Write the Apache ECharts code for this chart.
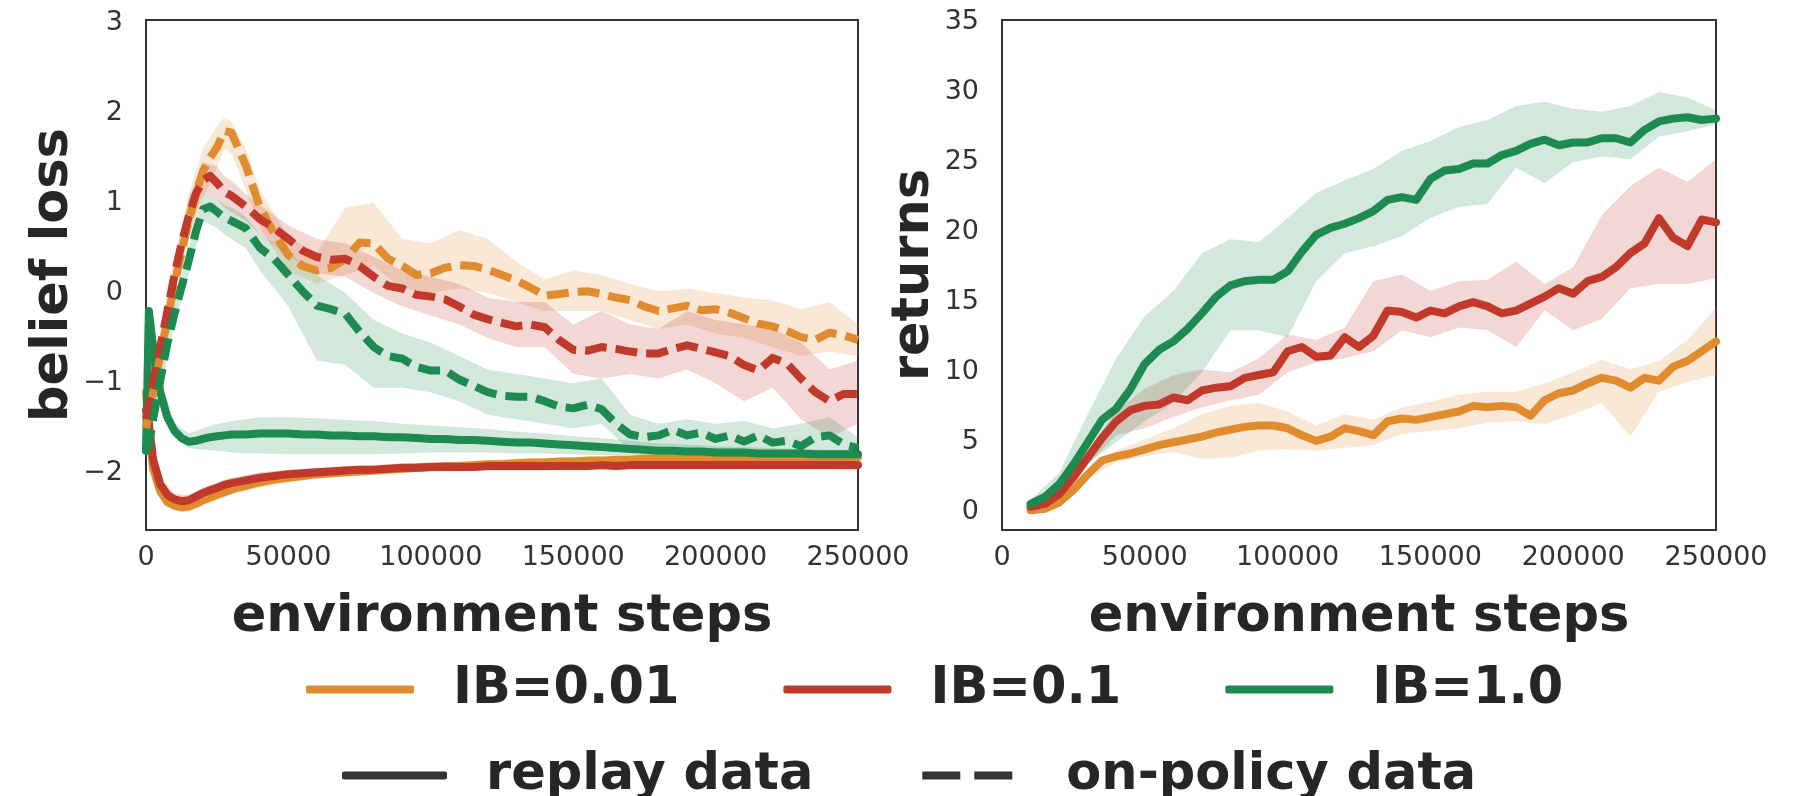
<!DOCTYPE html>
<html>
<head>
<meta charset="utf-8">
<script src="https://cdn.jsdelivr.net/npm/echarts@6.0.0/dist/echarts.min.js"></script>
<style>
  html, body { margin: 0; padding: 0; background: #fff; }
  #chart { width: 1798px; height: 796px; }
</style>
</head>
<body>
<div id="chart"></div>
<script>
// ---- left panel: belief loss ----
const STEPS_L = [0, 1000, 2500, 5000, 7500, 10000, 12500, 15000, 17500, 20000, 22500, 25000, 27500,
  30000, 35000, 40000, 45000, 50000, 55000, 60000, 65000, 70000, 75000, 80000, 85000, 90000, 95000, 100000,
  105000, 110000, 115000, 120000, 125000, 130000, 135000, 140000, 145000, 150000, 155000, 160000, 165000, 170000,
  175000, 180000, 185000, 190000, 195000, 200000, 205000, 210000, 215000, 220000, 225000, 230000, 235000, 240000,
  245000, 250000];

// replay data (solid)
const lossReplay001 = [-1.1, -1.5, -1.95, -2.2, -2.32, -2.36, -2.38, -2.37, -2.34, -2.3, -2.27, -2.24, -2.21,
  -2.18, -2.14, -2.1, -2.07, -2.05, -2.03, -2.01, -2.0, -1.99, -1.98, -1.97, -1.96, -1.95, -1.94, -1.93,
  -1.92, -1.92, -1.91, -1.9, -1.9, -1.89, -1.88, -1.88, -1.87, -1.87, -1.86, -1.86, -1.85, -1.85,
  -1.84, -1.84, -1.84, -1.84, -1.83, -1.83, -1.83, -1.83, -1.83, -1.83, -1.82, -1.82, -1.82, -1.82, -1.82, -1.82];
const lossReplay01 = [-1.3, -1.45, -1.85, -2.12, -2.24, -2.29, -2.31, -2.3, -2.26, -2.22, -2.19, -2.16, -2.13,
  -2.11, -2.08, -2.05, -2.03, -2.01, -2.0, -1.99, -1.98, -1.97, -1.96, -1.96, -1.95, -1.94, -1.94, -1.93,
  -1.93, -1.93, -1.93, -1.92, -1.92, -1.92, -1.92, -1.92, -1.92, -1.92, -1.92, -1.91, -1.92, -1.91,
  -1.91, -1.91, -1.91, -1.91, -1.91, -1.91, -1.91, -1.91, -1.91, -1.91, -1.91, -1.91, -1.91, -1.91, -1.91, -1.91];
const lossReplay1 = [-1.75, -0.2, -0.6, -1.1, -1.38, -1.53, -1.61, -1.65, -1.64, -1.62, -1.6, -1.59, -1.58,
  -1.57, -1.57, -1.56, -1.56, -1.56, -1.57, -1.57, -1.58, -1.58, -1.59, -1.59, -1.6, -1.6, -1.61, -1.62,
  -1.62, -1.63, -1.63, -1.64, -1.65, -1.66, -1.66, -1.67, -1.68, -1.69, -1.7, -1.71, -1.72, -1.73,
  -1.74, -1.75, -1.75, -1.76, -1.76, -1.77, -1.77, -1.77, -1.78, -1.78, -1.78, -1.78, -1.79, -1.79, -1.79, -1.79];

// on-policy data (dashed)
const lossOnPolicy001 = [-1.5, -1.35, -1.1, -0.7, -0.3, 0.1, 0.45, 0.8, 1.1, 1.35, 1.5, 1.62, 1.8,
  1.78, 1.42, 0.95, 0.66, 0.42, 0.3, 0.25, 0.28, 0.38, 0.56, 0.55, 0.38, 0.3, 0.2, 0.22,
  0.28, 0.31, 0.3, 0.26, 0.2, 0.14, 0.06, -0.03, -0.01, 0.01, 0.02, -0.01, -0.05, -0.08,
  -0.15, -0.2, -0.17, -0.14, -0.19, -0.18, -0.22, -0.28, -0.34, -0.37, -0.42, -0.49, -0.52, -0.44, -0.47, -0.52];
const lossOnPolicy01 = [-1.4, -1.25, -1.0, -0.6, -0.2, 0.2, 0.55, 0.85, 1.1, 1.25, 1.3, 1.22, 1.12,
  1.08, 0.96, 0.82, 0.72, 0.6, 0.47, 0.4, 0.37, 0.38, 0.3, 0.18, 0.08, 0.05, -0.02, -0.04,
  -0.07, -0.15, -0.24, -0.29, -0.33, -0.37, -0.35, -0.38, -0.52, -0.63, -0.64, -0.6, -0.62, -0.65,
  -0.67, -0.67, -0.62, -0.58, -0.62, -0.66, -0.7, -0.8, -0.86, -0.72, -0.78, -0.95, -1.1, -1.2, -1.12, -1.12];
const lossOnPolicy1 = [-1.75, -1.7, -1.4, -0.97, -0.56, -0.23, 0.07, 0.36, 0.68, 0.93, 0.96, 0.9, 0.84,
  0.8, 0.72, 0.5, 0.38, 0.2, 0.02, -0.14, -0.18, -0.23, -0.43, -0.6, -0.7, -0.73, -0.82, -0.86,
  -0.86, -0.96, -1.03, -1.1, -1.14, -1.15, -1.15, -1.2, -1.26, -1.28, -1.24, -1.29, -1.45, -1.57,
  -1.6, -1.58, -1.52, -1.58, -1.55, -1.62, -1.58, -1.65, -1.58, -1.66, -1.64, -1.7, -1.6, -1.58, -1.68, -1.72];

// shaded spread, left panel
const BAND_L = [0, 2500, 5000, 10000, 15000, 20000, 25000, 27500, 30000, 35000,
  40000, 50000, 60000, 70000, 80000, 90000, 100000, 110000, 120000, 130000, 140000,
  150000, 160000, 170000, 180000, 190000, 200000, 210000, 220000, 230000, 240000, 250000];
const replay001Lo = [-1.25, -2.02, -2.27, -2.42, -2.43, -2.36, -2.3, -2.27, -2.24, -2.2,
  -2.16, -2.1, -2.06, -2.04, -2.02, -2.0, -1.98, -1.97, -1.95, -1.94, -1.93,
  -1.92, -1.91, -1.9, -1.89, -1.89, -1.88, -1.88, -1.88, -1.88, -1.88, -1.89];
const replay001Hi = [-0.95, -1.88, -2.13, -2.3, -2.31, -2.24, -2.18, -2.15, -2.12, -2.08,
  -2.04, -2.0, -1.96, -1.94, -1.92, -1.9, -1.88, -1.87, -1.85, -1.84, -1.83,
  -1.82, -1.81, -1.8, -1.79, -1.79, -1.78, -1.78, -1.77, -1.76, -1.75, -1.74];
const replay01Lo = [-1.45, -1.92, -2.18, -2.35, -2.36, -2.28, -2.22, -2.19, -2.17, -2.14,
  -2.11, -2.06, -2.04, -2.02, -2.01, -1.99, -1.98, -1.98, -1.97, -1.97, -1.97,
  -1.96, -1.96, -1.96, -1.96, -1.96, -1.96, -1.96, -1.96, -1.96, -1.96, -1.97];
const replay01Hi = [-1.15, -1.78, -2.06, -2.23, -2.24, -2.16, -2.1, -2.07, -2.05, -2.02,
  -1.99, -1.96, -1.94, -1.92, -1.91, -1.89, -1.88, -1.88, -1.87, -1.87, -1.87,
  -1.86, -1.86, -1.86, -1.86, -1.86, -1.86, -1.86, -1.86, -1.86, -1.86, -1.86];
const replay1Lo = [-1.8, -0.8, -1.22, -1.6, -1.72, -1.74, -1.75, -1.76, -1.77, -1.78,
  -1.78, -1.79, -1.79, -1.79, -1.79, -1.78, -1.77, -1.77, -1.77, -1.78, -1.78,
  -1.79, -1.8, -1.8, -1.81, -1.81, -1.82, -1.82, -1.83, -1.83, -1.84, -1.84];
const replay1Hi = [-1.65, -0.35, -0.95, -1.44, -1.56, -1.5, -1.45, -1.44, -1.42, -1.4,
  -1.38, -1.38, -1.39, -1.41, -1.42, -1.45, -1.47, -1.49, -1.51, -1.54, -1.56,
  -1.59, -1.61, -1.64, -1.67, -1.68, -1.7, -1.71, -1.72, -1.73, -1.74, -1.74];
const onPolicy001Lo = [-1.6, -1.2, -0.85, -0.1, 0.6, 1.05, 1.4, 1.6, 1.55, 1.15,
  0.72, 0.25, 0.1, 0.2, 0.3, 0.05, 0.0, 0.05, 0.0, -0.1, -0.2,
  -0.2, -0.2, -0.3, -0.4, -0.35, -0.45, -0.5, -0.6, -0.7, -0.65, -0.7];
const onPolicy001Hi = [-1.4, -0.95, -0.55, 0.3, 1.1, 1.6, 1.85, 1.95, 1.9, 1.6,
  1.15, 0.62, 0.45, 0.95, 1.0, 0.6, 0.55, 0.7, 0.6, 0.35, 0.15,
  0.25, 0.2, 0.1, 0.02, 0.05, 0.0, -0.05, -0.08, -0.18, -0.1, -0.35];
const onPolicy01Lo = [-1.5, -1.1, -0.75, 0.0, 0.65, 1.1, 1.05, 0.95, 0.9, 0.8,
  0.65, 0.42, 0.22, 0.18, 0.0, -0.15, -0.25, -0.35, -0.5, -0.6, -0.6,
  -0.9, -0.95, -0.9, -0.95, -0.85, -1.0, -1.2, -1.05, -1.4, -1.6, -1.45];
const onPolicy01Hi = [-1.3, -0.9, -0.45, 0.4, 1.05, 1.45, 1.4, 1.3, 1.25, 1.1,
  0.98, 0.75, 0.6, 0.55, 0.4, 0.25, 0.18, 0.1, -0.05, -0.1, -0.1,
  -0.35, -0.2, -0.35, -0.4, -0.2, -0.3, -0.35, -0.4, -0.55, -0.85, -0.75];
const onPolicy1Lo = [-1.85, -1.5, -1.1, -0.35, 0.2, 0.8, 0.72, 0.65, 0.6, 0.5,
  0.25, -0.15, -0.75, -0.8, -1.05, -1.05, -1.1, -1.2, -1.35, -1.4, -1.45,
  -1.5, -1.45, -1.75, -1.8, -1.78, -1.8, -1.82, -1.85, -1.85, -1.8, -1.85];
const onPolicy1Hi = [-1.65, -1.3, -0.85, -0.1, 0.5, 1.1, 1.05, 0.98, 0.95, 0.85,
  0.65, 0.45, 0.2, 0.0, -0.3, -0.45, -0.55, -0.7, -0.85, -0.9, -0.95,
  -1.0, -0.95, -1.35, -1.45, -1.4, -1.45, -1.42, -1.5, -1.45, -1.38, -1.6];

// ---- right panel: returns ----
const STEPS_R = [10000, 15000, 20000, 25000, 30000, 35000, 40000, 45000, 50000, 55000,
  60000, 65000, 70000, 75000, 80000, 85000, 90000, 95000, 100000, 105000,
  110000, 115000, 120000, 125000, 130000, 135000, 140000, 145000, 150000, 155000,
  160000, 165000, 170000, 175000, 180000, 185000, 190000, 195000, 200000, 205000,
  210000, 215000, 220000, 225000, 230000, 235000, 240000, 245000, 250000];
const returns001 = [0.15, 0.25, 0.7, 1.6, 2.7, 3.7, 4.0, 4.2, 4.5, 4.8,
  5.0, 5.2, 5.4, 5.7, 5.9, 6.1, 6.2, 6.2, 6.0, 5.5,
  5.1, 5.4, 6.0, 5.8, 5.5, 6.5, 6.7, 6.6, 6.8, 7.0,
  7.2, 7.6, 7.5, 7.6, 7.5, 6.9, 8.0, 8.5, 8.7, 9.2,
  9.6, 9.4, 8.9, 9.6, 9.4, 10.4, 10.8, 11.5, 12.2];
const returns01 = [0.4, 0.6, 1.3, 2.5, 3.9, 5.3, 6.5, 7.3, 7.6, 7.7,
  8.2, 8.0, 8.7, 8.9, 9.0, 9.6, 9.8, 10.0, 11.5, 11.8,
  11.1, 11.2, 12.5, 11.8, 12.6, 14.4, 14.3, 13.9, 14.4, 14.2,
  14.7, 15.0, 14.7, 14.2, 14.4, 14.9, 15.4, 16.0, 15.6, 16.5,
  16.8, 17.5, 18.5, 19.2, 21.0, 19.6, 19.0, 20.9, 20.7];
const returns1 = [0.6, 1.1, 2.0, 3.4, 5.0, 6.6, 7.4, 8.8, 10.6, 11.6,
  12.2, 13.1, 14.2, 15.4, 16.2, 16.5, 16.6, 16.6, 17.2, 18.6,
  19.8, 20.3, 20.6, 21.0, 21.5, 22.3, 22.5, 22.3, 23.8, 24.4,
  24.5, 24.9, 24.9, 25.5, 25.8, 26.3, 26.6, 26.2, 26.4, 26.4,
  26.7, 26.7, 26.4, 27.3, 27.9, 28.1, 28.2, 28.0, 28.1];

const BAND_R = [10000, 20000, 30000, 40000, 50000, 60000, 70000, 80000, 90000, 100000,
  110000, 120000, 130000, 140000, 150000, 160000, 170000, 180000, 190000, 200000,
  210000, 220000, 230000, 240000, 250000];
const returns001Lo = [0.05, 0.5, 2.4, 3.6, 4.0, 4.3, 3.8, 3.9, 4.4, 4.5,
  4.4, 4.6, 4.8, 5.6, 5.8, 6.0, 6.4, 6.5, 6.3, 7.0, 7.8, 5.4, 8.6, 9.3, 9.8];
const returns001Hi = [0.25, 0.9, 3.0, 4.4, 5.2, 6.0, 7.0, 7.6, 7.8, 7.2,
  6.2, 7.0, 6.6, 7.5, 7.9, 8.4, 8.6, 8.6, 9.2, 10.0, 10.9, 10.2, 10.8, 12.3, 14.6];
const returns01Lo = [0.3, 1.0, 3.4, 5.5, 6.0, 6.8, 7.5, 8.0, 8.4, 10.0,
  10.7, 11.0, 11.5, 13.0, 12.5, 13.2, 13.0, 11.8, 14.4, 13.0, 13.8, 16.0, 16.3, 16.3, 16.7];
const returns01Hi = [0.5, 1.7, 4.4, 7.2, 8.8, 9.8, 10.2, 10.0, 11.0, 12.7,
  12.3, 13.2, 16.5, 17.0, 15.8, 16.5, 16.6, 17.9, 16.3, 17.5, 21.2, 23.3, 24.6, 23.6, 25.2];
const returns1Lo = [0.4, 1.5, 3.5, 5.0, 6.5, 7.8, 10.0, 13.0, 13.0, 12.5,
  16.5, 18.5, 19.0, 19.7, 21.0, 21.8, 22.0, 24.6, 23.5, 25.0, 25.4, 25.2, 26.8, 27.2, 27.7];
const returns1Hi = [0.9, 2.8, 7.0, 11.0, 14.0, 15.8, 18.5, 19.5, 19.3, 21.0,
  22.8, 23.7, 24.5, 25.8, 26.5, 27.5, 28.0, 29.0, 29.3, 28.8, 28.6, 29.0, 30.0, 29.6, 28.7];

const X_TICKS = [0, 50000, 100000, 150000, 200000, 250000];
const LOSS_TICKS = [-2, -1, 0, 1, 2, 3];
const RETURN_TICKS = [0, 5, 10, 15, 20, 25, 30, 35];

const NAMES = ['IB=0.01', 'IB=0.1', 'IB=1.0'];
const COLORS = ['#e08b2d', '#c0392b', '#1d8a4f'];
const FONT = 'DejaVu Sans';
const INK = '#262626';

const chart = echarts.init(document.getElementById('chart'));

function bandSeries(idx, steps, lo, hi, color) {
  return {
    type: 'custom',
    xAxisIndex: idx,
    yAxisIndex: idx,
    silent: true,
    z: 1,
    data: steps.map((s, i) => [s, lo[i], hi[i]]),
    encode: { x: 0, y: [1, 2] },
    renderItem: function (params, api) {
      if (params.dataIndex !== 0) return null;
      const top = steps.map((s, i) => api.coord([s, hi[i]]));
      const bottom = steps.map((s, i) => api.coord([s, lo[i]])).reverse();
      return {
        type: 'polygon',
        shape: { points: top.concat(bottom) },
        style: { fill: color, opacity: 0.2 }
      };
    }
  };
}

function lineSeries(name, idx, steps, vals, color, dashed) {
  return {
    name: name,
    type: 'line',
    xAxisIndex: idx,
    yAxisIndex: idx,
    data: steps.map((s, i) => [s, vals[i]]),
    symbol: 'none',
    showSymbol: false,
    z: dashed ? 4 : 3,
    itemStyle: { color: color },
    lineStyle: { color: color, width: 8, type: dashed ? [22, 9] : 'solid', join: 'round', cap: dashed ? 'butt' : 'round' },
    emphasis: { disabled: true }
  };
}

const minus = v => (v < 0 ? '\u2212' + (-v) : String(v));
const tickFont = { fontFamily: FONT, fontSize: 27, color: '#333' };
const titleFont = { fontFamily: FONT, fontSize: 51, fontWeight: 'bold', color: INK };

function xAxisOf(i) {
  return {
    type: 'value', gridIndex: i, min: 0, max: 250000,
    name: 'environment steps', nameLocation: 'middle', nameGap: 62, nameTextStyle: titleFont,
    axisLine: { show: false }, axisTick: { show: false }, splitLine: { show: false },
    axisLabel: Object.assign({ customValues: X_TICKS, margin: 14, formatter: v => String(v) }, tickFont)
  };
}

const series = [
  bandSeries(0, BAND_L, replay001Lo, replay001Hi, COLORS[0]),
  bandSeries(0, BAND_L, replay01Lo, replay01Hi, COLORS[1]),
  bandSeries(0, BAND_L, replay1Lo, replay1Hi, COLORS[2]),
  bandSeries(0, BAND_L, onPolicy001Lo, onPolicy001Hi, COLORS[0]),
  bandSeries(0, BAND_L, onPolicy01Lo, onPolicy01Hi, COLORS[1]),
  bandSeries(0, BAND_L, onPolicy1Lo, onPolicy1Hi, COLORS[2]),
  lineSeries(NAMES[0], 0, STEPS_L, lossReplay001, COLORS[0], false),
  lineSeries(NAMES[1], 0, STEPS_L, lossReplay01, COLORS[1], false),
  lineSeries(NAMES[2], 0, STEPS_L, lossReplay1, COLORS[2], false),
  lineSeries(NAMES[0], 0, STEPS_L, lossOnPolicy001, COLORS[0], true),
  lineSeries(NAMES[1], 0, STEPS_L, lossOnPolicy01, COLORS[1], true),
  lineSeries(NAMES[2], 0, STEPS_L, lossOnPolicy1, COLORS[2], true),
  bandSeries(1, BAND_R, returns001Lo, returns001Hi, COLORS[0]),
  bandSeries(1, BAND_R, returns01Lo, returns01Hi, COLORS[1]),
  bandSeries(1, BAND_R, returns1Lo, returns1Hi, COLORS[2]),
  lineSeries(NAMES[0], 1, STEPS_R, returns001, COLORS[0], false),
  lineSeries(NAMES[1], 1, STEPS_R, returns01, COLORS[1], false),
  lineSeries(NAMES[2], 1, STEPS_R, returns1, COLORS[2], false),
  // legend-only entries for the line styles
  lineSeries('replay data', 0, [], [], '#333', false),
  lineSeries('on-policy data', 0, [], [], '#333', true)
];

const legendText = {
  rich: { t: { fontFamily: FONT, fontSize: 51, fontWeight: 'bold', color: INK, lineHeight: 60, padding: [0, 0, 0, 34] } }
};
const DASH_ICON = 'path://M0,0H38V8H0Z M52,0H90V8H52Z M104.8,7.8H105V8H104.8Z';

chart.setOption({
  animation: false,
  backgroundColor: '#fff',
  grid: [
    { left: 146, top: 20, width: 712, height: 510, show: true, borderColor: '#333', borderWidth: 2 },
    { left: 1002, top: 20, width: 714, height: 510, show: true, borderColor: '#333', borderWidth: 2 }
  ],
  xAxis: [xAxisOf(0), xAxisOf(1)],
  yAxis: [
    {
      type: 'value', gridIndex: 0, min: -2.63, max: 3.03,
      name: 'belief loss', nameLocation: 'middle', nameGap: 54, nameTextStyle: titleFont,
      axisLine: { show: false }, axisTick: { show: false }, splitLine: { show: false },
      axisLabel: Object.assign({ customValues: LOSS_TICKS, margin: 23, formatter: minus }, tickFont)
    },
    {
      type: 'value', gridIndex: 1, min: -1.26, max: 35.14,
      name: 'returns', nameLocation: 'middle', nameGap: 54, nameTextStyle: titleFont,
      axisLine: { show: false }, axisTick: { show: false }, splitLine: { show: false },
      axisLabel: Object.assign({ customValues: RETURN_TICKS, margin: 23, formatter: v => String(v) }, tickFont)
    }
  ],
  legend: [
    {
      data: NAMES, left: 306, top: 664, padding: 0, selectedMode: false,
      icon: 'roundRect', itemWidth: 108, itemHeight: 8, itemGap: 104,
      formatter: '{t|{name}}', textStyle: legendText
    },
    {
      data: [{ name: 'replay data', icon: 'roundRect' }, { name: 'on-policy data', icon: DASH_ICON }],
      left: 342, top: 750, padding: 0, selectedMode: false,
      itemWidth: 105, itemHeight: 8, itemGap: 109,
      formatter: '{t|{name}}', textStyle: legendText
    }
  ],
  series: series
});
</script>
</body>
</html>
